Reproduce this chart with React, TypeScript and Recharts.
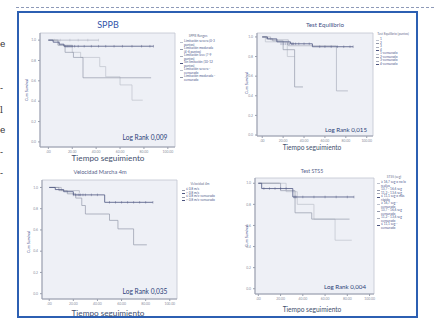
import React from 'react';
import { ComposedChart, Line, Scatter, XAxis, YAxis, ReferenceArea } from 'recharts';

const xTicks = [0, 20, 40, 60, 80, 100];
const xTickLabels = ['.00', '20.00', '40.00', '60.00', '80.00', '100.00'];
const yTicks = [0, 0.2, 0.4, 0.6, 0.8, 1.0];
const yTickLabels = ['0.0', '0.2', '0.4', '0.6', '0.8', '1.0'];

// SPPB
const sppbDarkT = [0, 4, 9, 13, 88];
const sppbDarkS = [1, 0.98, 0.96, 0.94, 0.94];
const sppbDarkCens = [14, 15, 16, 17, 18, 19, 20, 22, 25, 30, 36, 42, 48, 55, 62, 70, 78, 85, 88];
const sppbTopT = [0, 42];
const sppbTopS = [1, 1];
const sppbTopCens = [5, 10, 18, 25, 33, 42];
const sppbMidT = [0, 8, 14, 21, 29, 86];
const sppbMidS = [1, 0.95, 0.88, 0.83, 0.63, 0.63];
const sppbLowT = [0, 9, 20, 27, 43, 48, 60, 70, 79];
const sppbLowS = [1, 0.95, 0.88, 0.83, 0.74, 0.64, 0.56, 0.41, 0.41];

// Test Equilibrio
const eqDarkT = [0, 5, 14, 27, 48, 87];
const eqDarkS = [1, 0.98, 0.95, 0.93, 0.9, 0.9];
const eqDarkCensA = [18, 20, 22, 24, 26, 28, 29, 30, 32, 35, 40, 45];
const eqDarkCensB = [55, 60, 66, 72, 78, 84, 87];
const eqMidT = [0, 4, 10, 20, 31, 39];
const eqMidS = [1, 0.98, 0.96, 0.87, 0.49, 0.49];
const eqLateT = [0, 8, 25, 71, 82];
const eqLateS = [1, 0.97, 0.91, 0.45, 0.45];
const eqLightT = [0, 3, 24, 31];
const eqLightS = [1, 0.95, 0.8, 0.8];

// Velocidad Marcha 4m
const velDarkT = [0, 5, 12, 20, 46, 86];
const velDarkS = [1, 0.98, 0.96, 0.93, 0.86, 0.86];
const velDarkCensA = [20, 22, 24, 25, 26, 28, 30, 35, 40];
const velDarkCensB = [50, 55, 60, 65, 70, 75, 80, 86];
const velMidT = [0, 8, 15, 22, 27, 30, 50, 57, 70, 81];
const velMidS = [1, 0.97, 0.94, 0.9, 0.83, 0.75, 0.69, 0.61, 0.46, 0.46];
const velTopT = [0, 10, 25];
const velTopS = [1, 0.97, 0.95];

// Test STS5
const stsTopT = [0, 19];
const stsTopS = [1, 1];
const stsDarkT = [0, 3, 31, 86];
const stsDarkS = [1, 0.95, 0.87, 0.87];
const stsDarkCensA = [5, 10, 15, 20, 25];
const stsDarkCensB = [32, 33, 34, 40, 50, 60, 70, 80, 86];
const stsMidT = [0, 20, 33, 48, 82];
const stsMidS = [1, 0.93, 0.72, 0.66, 0.66];
const stsLowT = [0, 25, 35, 50, 69, 84];
const stsLowS = [1, 0.92, 0.8, 0.66, 0.46, 0.46];

const sppbLegend = [
  'Limitación severa (0-3 puntos)',
  'Limitación moderada (4-6 puntos)',
  'Limitación leve (7-9 puntos)',
  'Sin limitación (10-12 puntos)',
  'Limitación severa - censurado',
  'Limitación moderada - censurado',
];
const eqLegend = ['1', '2', '3', '4', '1-censurado', '2-censurado', '3-censurado', '4-censurado'];
const velLegend = ['≤ 0,8 m/s', '> 0,8 m/s', '≤ 0,8 m/s-censurado', '> 0,8 m/s-censurado'];
const stsLegend = [
  '≥ 16,7 seg o no lo realiza',
  '13,7 - 16,6 seg',
  '11,2 - 13,6 seg',
  '≤ 11,1 seg o más rápido',
  '≥ 16,7 seg - censurado',
  '13,7 - 16,6 seg censurado',
  '11,2 - 13,6 seg censurado',
  '≤ 11,1 seg - censurado',
];

const DARK = '#4d5580';
const MID = '#9499aa';
const LIGHT = '#bdc1cc';
const TOP = '#a9adbb';

const steps = (t: number[], s: number[]) => t.map((x, i) => ({ t: x, s: s[i] }));
const cens = (t: number[], v: number) => t.map((x) => ({ t: x, s: v }));

const CensorTick = (props: any) => {
  const { cx, cy, fill } = props;
  if (cx == null || cy == null) return null;
  return (
    <line x1={cx} x2={cx} y1={cy - 1.3} y2={cy + 1.3} stroke={fill} strokeWidth={0.5} strokeOpacity={0.8} />
  );
};

type Curve = { data: { t: number; s: number }[]; color: string; w?: number };

function KMPanel({
  box,
  xDomain,
  yDomain,
  curves,
  marks,
}: {
  box: [number, number, number, number];
  xDomain: [number, number];
  yDomain: [number, number];
  curves: Curve[];
  marks: Curve[];
}) {
  const yw = 12;
  const xh = 9;
  const [x0, y0, x1, y1] = box;
  const left = x0 - yw - 4;
  const top = y0 - 4;
  const width = x1 - left + 4;
  const height = y1 - top + xh + 4;
  const tick = { fontSize: 3.4, fill: '#8b90a0', fontFamily: 'Lato' };
  return (
    <div style={{ position: 'absolute', left, top }}>
      <ComposedChart width={width} height={height} margin={{ top: 4, right: 4, bottom: 4, left: 4 }}>
        <XAxis
          type="number"
          dataKey="t"
          domain={xDomain}
          ticks={xTicks}
          allowDataOverflow
          height={xh}
          tick={tick}
          tickSize={2}
          tickFormatter={(v) => xTickLabels[xTicks.indexOf(v)] ?? ''}
          stroke="#9a9fae"
        />
        <YAxis
          type="number"
          dataKey="s"
          domain={yDomain}
          ticks={yTicks}
          allowDataOverflow
          width={yw}
          tick={tick}
          tickSize={2}
          tickFormatter={(v) => yTickLabels[yTicks.indexOf(v)] ?? ''}
          stroke="#9a9fae"
        />
        <ReferenceArea
          x1={xDomain[0]}
          x2={xDomain[1]}
          y1={yDomain[0]}
          y2={yDomain[1]}
          fill="#eef0f6"
          fillOpacity={1}
          stroke="#c0c4d0"
          strokeWidth={0.8}
        />
        {curves.map((c, i) => (
          <Line
            key={`c-${i}`}
            data={c.data}
            dataKey="s"
            type="stepAfter"
            stroke={c.color}
            strokeWidth={c.w ?? 0.7}
            dot={false}
            isAnimationActive={false}
          />
        ))}
        {marks.map((m, i) => (
          <Scatter
            key={`m-${i}`}
            data={m.data}
            dataKey="s"
            fill={m.color}
            shape={CensorTick}
            isAnimationActive={false}
          />
        ))}
      </ComposedChart>
    </div>
  );
}

const Txt = ({
  x,
  y,
  size,
  color,
  children,
  rotate,
  family = 'Lato',
}: {
  x: number;
  y: number;
  size: number;
  color: string;
  children: React.ReactNode;
  rotate?: boolean;
  family?: string;
}) => (
  <div
    style={{
      position: 'absolute',
      left: x,
      top: y,
      transform: `translate(-50%, -50%)${rotate ? ' rotate(-90deg)' : ''}`,
      fontSize: size,
      color,
      fontFamily: family,
      whiteSpace: 'nowrap',
      lineHeight: 1,
    }}
  >
    {children}
  </div>
);

const LegendBox = ({
  x,
  y,
  width,
  title,
  items,
  colors,
}: {
  x: number;
  y: number;
  width: number;
  title: string;
  items: string[];
  colors: string[];
}) => (
  <div style={{ position: 'absolute', left: x, top: y, width, fontFamily: 'Lato', color: '#6a7090' }}>
    <div style={{ fontSize: 3.2, textAlign: 'center', marginBottom: 1.5, lineHeight: 1.1 }}>{title}</div>
    {items.map((it, i) => (
      <div key={it} style={{ display: 'flex', alignItems: 'flex-start', fontSize: 3.2, lineHeight: 1.1 }}>
        <div
          style={{
            width: 3,
            height: 0,
            borderTop: `0.6px solid ${colors[i % colors.length]}`,
            marginTop: 1.8,
            marginRight: 1,
            flexShrink: 0,
          }}
        />
        <div style={{ color: '#4e5a8e' }}>{it}</div>
      </div>
    ))}
  </div>
);

const leftFragments = [
  { y: 44, c: 'e' },
  { y: 88, c: '-' },
  { y: 110, c: 'l' },
  { y: 130, c: 'e' },
  { y: 152, c: '-' },
  { y: 173, c: '-' },
];

export default function App() {
  return (
    <div
      style={{
        position: 'absolute',
        left: 0,
        top: 0,
        width: 434,
        height: 327,
        background: '#ffffff',
        overflow: 'hidden',
      }}
    >
      {leftFragments.map((f) => (
        <div
          key={`f-${f.y}`}
          style={{ position: 'absolute', left: 0, top: f.y - 5, fontSize: 9, fontFamily: 'DejaVu Serif', color: '#333' }}
        >
          {f.c}
        </div>
      ))}
      <div style={{ position: 'absolute', left: 16, top: 7, width: 418, borderTop: '1px dashed #8e9ab8' }} />
      <div
        style={{
          position: 'absolute',
          left: 17,
          top: 11,
          width: 401,
          height: 307,
          border: '2px solid #2c5fb2',
          boxSizing: 'border-box',
        }}
      />

      {/* SPPB */}
      <KMPanel
        box={[40, 33, 175, 147]}
        xDomain={[-7, 106]}
        yDomain={[-0.05, 1.07]}
        curves={[
          { data: steps(sppbLowT, sppbLowS), color: LIGHT },
          { data: steps(sppbMidT, sppbMidS), color: MID },
          { data: steps(sppbTopT, sppbTopS), color: TOP },
          { data: steps(sppbDarkT, sppbDarkS), color: DARK, w: 0.8 },
        ]}
        marks={[
          { data: cens(sppbTopCens, 1), color: TOP },
          { data: cens(sppbDarkCens, 0.94), color: DARK },
        ]}
      />
      <Txt x={108} y={24} size={9} color="#3355aa">SPPB</Txt>
      <Txt x={27} y={90} size={3.8} color="#3b4a8a" rotate>Cum Survival</Txt>
      <Txt x={145} y={137} size={6.6} color="#2c3e78">Log Rank 0,009</Txt>
      <Txt x={108} y={158} size={8.2} color="#44506e">Tiempo seguimiento</Txt>
      <LegendBox
        x={180}
        y={35}
        width={36}
        title="SPPB Rangos"
        items={sppbLegend}
        colors={[LIGHT, MID, TOP, DARK, LIGHT, MID]}
      />

      {/* Test Equilibrio */}
      <KMPanel
        box={[257, 33, 373, 136]}
        xDomain={[-5, 106]}
        yDomain={[-0.01, 1.04]}
        curves={[
          { data: steps(eqLightT, eqLightS), color: LIGHT },
          { data: steps(eqMidT, eqMidS), color: MID },
          { data: steps(eqLateT, eqLateS), color: TOP },
          { data: steps(eqDarkT, eqDarkS), color: DARK, w: 0.8 },
        ]}
        marks={[
          { data: cens(eqDarkCensA, 0.93), color: DARK },
          { data: cens(eqDarkCensB, 0.9), color: DARK },
        ]}
      />
      <Txt x={325} y={25} size={6.2} color="#3f4f86">Test Equilibrio</Txt>
      <Txt x={247} y={83} size={3.8} color="#3b4a8a" rotate>Cum Survival</Txt>
      <Txt x={346} y={130} size={6.2} color="#2c3e78">Log Rank 0,015</Txt>
      <Txt x={312} y={147} size={6.6} color="#44506e">Tiempo seguimiento</Txt>
      <LegendBox
        x={376}
        y={33}
        width={34}
        title="Test Equilibrio (puntos)"
        items={eqLegend}
        colors={[LIGHT, MID, TOP, DARK]}
      />

      {/* Velocidad Marcha 4m */}
      <KMPanel
        box={[42, 180, 177, 299]}
        xDomain={[-6, 106]}
        yDomain={[-0.05, 1.07]}
        curves={[
          { data: steps(velTopT, velTopS), color: TOP },
          { data: steps(velMidT, velMidS), color: MID },
          { data: steps(velDarkT, velDarkS), color: DARK, w: 0.8 },
        ]}
        marks={[
          { data: cens(velDarkCensA, 0.93), color: DARK },
          { data: cens(velDarkCensB, 0.86), color: DARK },
        ]}
      />
      <Txt x={100} y={172} size={5.6} color="#55608a">Velocidad Marcha 4m</Txt>
      <Txt x={29} y={242} size={3.8} color="#3b4a8a" rotate>Cum Survival</Txt>
      <Txt x={145} y={291} size={6.6} color="#2c3e78">Log Rank 0,035</Txt>
      <Txt x={108} y={313} size={8.2} color="#44506e">Tiempo seguimiento</Txt>
      <LegendBox
        x={182}
        y={183}
        width={36}
        title="Velocidad 4m"
        items={velLegend}
        colors={[MID, DARK, MID, DARK]}
      />

      {/* Test STS5 */}
      <KMPanel
        box={[255, 178, 374, 294]}
        xDomain={[-3, 104]}
        yDomain={[-0.05, 1.05]}
        curves={[
          { data: steps(stsLowT, stsLowS), color: LIGHT },
          { data: steps(stsMidT, stsMidS), color: MID },
          { data: steps(stsTopT, stsTopS), color: TOP },
          { data: steps(stsDarkT, stsDarkS), color: DARK, w: 0.8 },
        ]}
        marks={[
          { data: cens(stsDarkCensA, 0.95), color: DARK },
          { data: cens(stsDarkCensB, 0.87), color: DARK },
        ]}
      />
      <Txt x={312} y={172} size={5.2} color="#55608a">Test STS5</Txt>
      <Txt x={247} y={236} size={3.8} color="#3b4a8a" rotate>Cum Survival</Txt>
      <Txt x={345} y={287} size={6.2} color="#2c3e78">Log Rank 0,004</Txt>
      <Txt x={312} y={309} size={6.6} color="#44506e">Tiempo seguimiento</Txt>
      <LegendBox
        x={377}
        y={176}
        width={34}
        title="STS5 (seg)"
        items={stsLegend}
        colors={[LIGHT, MID, TOP, DARK]}
      />
    </div>
  );
}
